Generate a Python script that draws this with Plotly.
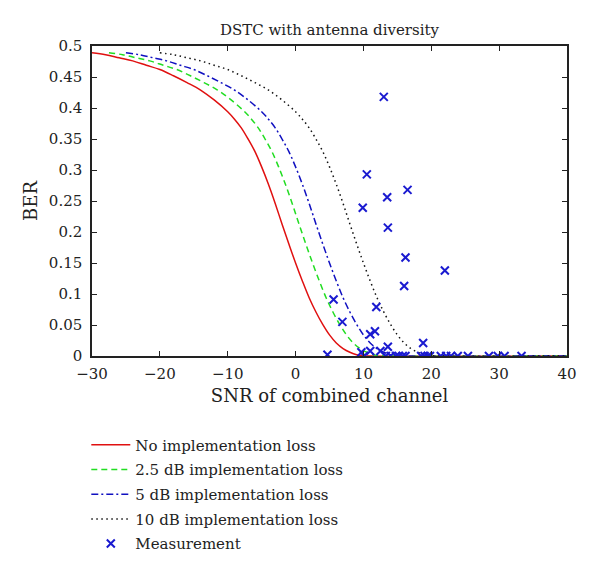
import plotly.graph_objects as go

# theoretical curves
snr_none = [-30, -28, -26, -24, -22, -20, -18, -16, -14, -12, -10, -9, -8, -7, -6, -5, -4, -3,
            -2, -1, 0, 1, 2, 3, 4, 5, 6, 7, 8, 9, 10, 11, 40]
ber_none = [0.489, 0.486, 0.481, 0.476, 0.469, 0.462, 0.452, 0.441, 0.429, 0.413, 0.394,
            0.382, 0.368, 0.350, 0.330, 0.305, 0.277, 0.246, 0.213, 0.181, 0.150, 0.121,
            0.094, 0.071, 0.051, 0.034, 0.021, 0.012, 0.006, 0.002, 0.0005, 0.0, 0.0]

snr_25 = [-27.5, -25.5, -23.5, -21.5, -19.5, -17.5, -15.5, -13.5, -11.5, -9.5, -7.5, -6.5,
          -5.5, -4.5, -3.5, -2.5, -1.5, -0.5, 0.5, 1.5, 2.5, 3.5, 4.5, 5.5, 6.5, 7.5, 8.5,
          9.5, 10.5, 11.5, 12.5, 13.5, 40]
ber_25 = [0.489, 0.486, 0.481, 0.476, 0.469, 0.462, 0.452, 0.441, 0.429, 0.413, 0.394,
          0.382, 0.368, 0.350, 0.330, 0.305, 0.277, 0.246, 0.213, 0.181, 0.150, 0.121,
          0.094, 0.071, 0.051, 0.034, 0.021, 0.012, 0.006, 0.002, 0.0005, 0.0, 0.0]

snr_5 = [-25, -23, -21, -19, -17, -15, -13, -11, -9, -7, -5, -4, -3, -2, -1, 0, 1, 2, 3, 4,
         5, 6, 7, 8, 9, 10, 11, 12, 13, 14, 15, 16, 40]
ber_5 = [0.489, 0.486, 0.481, 0.476, 0.469, 0.462, 0.452, 0.441, 0.429, 0.413, 0.394,
         0.382, 0.368, 0.350, 0.330, 0.305, 0.277, 0.246, 0.213, 0.181, 0.150, 0.121,
         0.094, 0.071, 0.051, 0.034, 0.021, 0.012, 0.006, 0.002, 0.0005, 0.0, 0.0]

snr_10 = [-20, -18, -16, -14, -12, -10, -8, -6, -4, -2, 0, 1, 2, 3, 4, 5, 6, 7, 8, 9, 10,
          11, 12, 13, 14, 15, 16, 17, 18, 19, 20, 21, 40]
ber_10 = [0.489, 0.486, 0.481, 0.476, 0.469, 0.462, 0.452, 0.441, 0.429, 0.413, 0.394,
          0.382, 0.368, 0.350, 0.330, 0.305, 0.277, 0.246, 0.213, 0.181, 0.150, 0.121,
          0.094, 0.071, 0.051, 0.034, 0.021, 0.012, 0.006, 0.002, 0.0005, 0.0, 0.0]

# measurements
meas_snr = [4.7, 5.6, 6.9, 9.7, 9.9, 10.1, 10.5, 11.0, 11.0, 11.7, 11.9, 12.5, 13.0, 13.3,
            13.5, 13.6, 13.6, 14.0, 14.8, 15.2, 15.8, 16.0, 16.2, 16.2, 16.5, 18.5, 18.8,
            19.0, 19.5, 19.8, 21.4, 22.0, 22.2, 22.9, 23.9, 25.4, 28.5, 29.8, 30.8, 33.3]
meas_ber = [0.002, 0.091, 0.055, 0.006, 0.239, 0.0, 0.293, 0.035, 0.008, 0.040, 0.079, 0.008,
            0.418, 0.0, 0.256, 0.207, 0.015, 0.0, 0.0, 0.0, 0.0, 0.113, 0.159, 0.0, 0.268,
            0.0, 0.021, 0.0, 0.0, 0.0, 0.0, 0.138, 0.0, 0.0, 0.0, 0.0, 0.0, 0.0, 0.0, 0.0]

font = "DejaVu Serif"

fig = go.Figure()
fig.add_trace(go.Scatter(x=snr_none, y=ber_none, mode="lines", name="No implementation loss",
                         legendgroup="a",
                         line=dict(color="#e01010", width=1.5, shape="spline")))
fig.add_trace(go.Scatter(x=snr_25, y=ber_25, mode="lines", name="2.5 dB implementation loss",
                         legendgroup="b",
                         line=dict(color="#22dd22", width=1.5, dash="6px,4px", shape="spline")))
fig.add_trace(go.Scatter(x=snr_5, y=ber_5, mode="lines", name="5 dB implementation loss",
                         legendgroup="c",
                         line=dict(color="#1010c0", width=1.5, dash="7px,3px,2px,3px",
                                   shape="spline")))
fig.add_trace(go.Scatter(x=snr_10, y=ber_10, mode="lines", name="10 dB implementation loss",
                         legendgroup="d",
                         line=dict(color="#111111", width=1.5, dash="1.5px,3.5px",
                                   shape="spline")))
fig.add_trace(go.Scatter(x=meas_snr, y=meas_ber, mode="markers", name="Measurement",
                         legendgroup="e",
                         marker=dict(symbol="x-thin", size=8,
                                     line=dict(color="#1a1ad0", width=2))))

axis_style = dict(showline=True, linecolor="#222222", linewidth=1.5, mirror="allticks",
                  ticks="inside", ticklen=5, tickcolor="#222222", showgrid=False,
                  zeroline=False, tickfont=dict(size=15))

fig.update_layout(
    width=592, height=563,
    margin=dict(l=84, r=33, t=38, b=214),
    paper_bgcolor="white", plot_bgcolor="white",
    font=dict(family=font, size=15, color="#222222"),
    title=dict(text="DSTC with antenna diversity", x=0.5, xref="paper", xanchor="center",
               y=1.0, yref="paper", yanchor="bottom", pad=dict(b=11), font=dict(size=15)),
    xaxis=dict(range=[-30, 40], dtick=10, ticklabelstandoff=3,
               title=dict(text="SNR of combined channel", standoff=8), **axis_style),
    yaxis=dict(range=[0, 0.5], dtick=0.05, ticklabelstandoff=5,
               title=dict(text="BER", standoff=7), **axis_style),
    legend=dict(x=-0.012, y=-0.23, xanchor="left", yanchor="top", bgcolor="rgba(0,0,0,0)",
                itemwidth=39, tracegroupgap=2.2, font=dict(size=15)),
    showlegend=True,
)

fig.write_html("out.html")
